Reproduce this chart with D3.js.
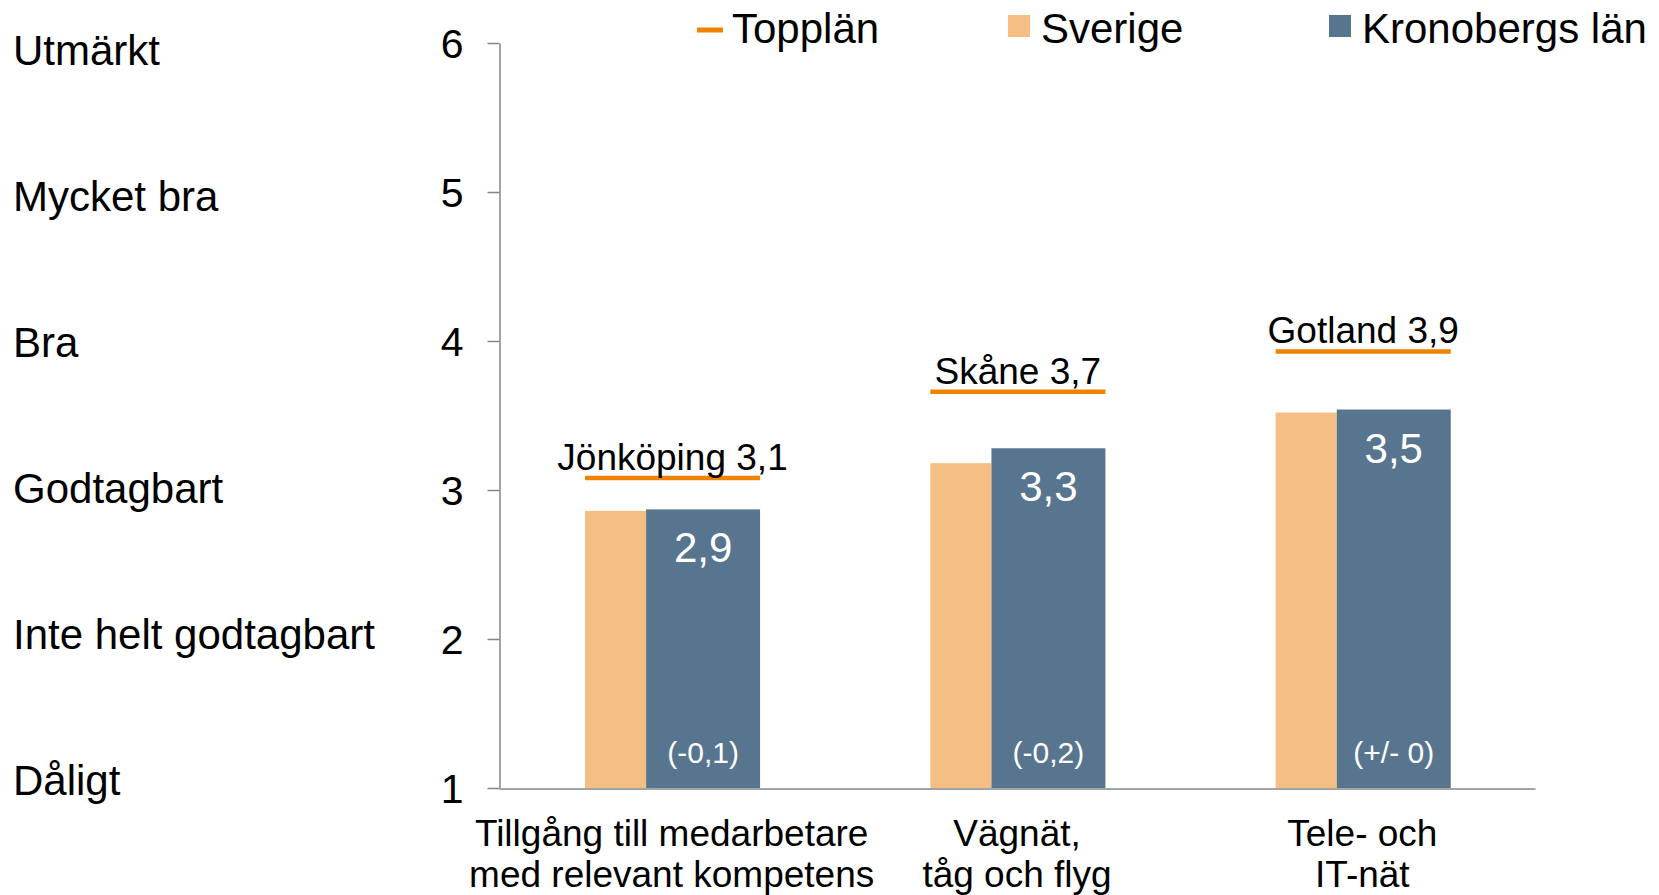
<!DOCTYPE html>
<html>
<head>
<meta charset="utf-8">
<script src="https://cdn.jsdelivr.net/npm/d3@7"></script>
<style>
  body { margin: 0; background: #fff; }
  svg { font-family: "Liberation Sans", Arial, sans-serif; }
</style>
</head>
<body>
<svg id="chart" width="1659" height="895"></svg>
<script>
// chart values
const categories = ['Tillgång till medarbetare\nmed relevant kompetens', 'Vägnät,\ntåg och flyg', 'Tele- och\nIT-nät']
const sverige = [2.86, 3.18, 3.52]
const kronoberg = [2.87, 3.28, 3.54]
const kronobergLabels = ['2,9', '3,3', '3,5']
const changeLabels = ['(-0,1)', '(-0,2)', '(+/- 0)']
const topplan = [3.08, 3.66, 3.93]
const topplanLabels = ['Jönköping 3,1', 'Skåne 3,7', 'Gotland 3,9']
const yTicks = [1, 2, 3, 4, 5, 6]
const ratingLabels = ['Dåligt', 'Inte helt godtagbart', 'Godtagbart', 'Bra', 'Mycket bra', 'Utmärkt']

const colors = {sverige: '#F5BF84', kronoberg: '#58758F', topplan: '#EF8200', axis: '#868686'}

const svg = d3.select('#chart')

const x = d3.scaleBand()
  .domain(categories)
  .range([499, 1535])
  .padding(0)

const y = d3.scaleLinear()
  .domain([1, 6])
  .range([788, 43])

// the rating words sit on a slightly tighter spacing than the ticks
const ratingY = d3.scaleLinear()
  .domain([1, 6])
  .range([780, 50])

// bar geometry as share of the band
const groupStart = 0.249
const sverigeW = 0.177
const kronW = 0.33

// y axis
const yAxis = svg.append('g')
  .attr('transform', 'translate(499.5,0)')
  .call(d3.axisLeft(y).tickValues(yTicks).tickSize(12).tickSizeOuter(0).tickPadding(24).tickFormat(d3.format('d')))
yAxis.select('.domain').attr('stroke', colors.axis).attr('stroke-width', 1.5)
yAxis.selectAll('.tick line').attr('stroke', colors.axis).attr('stroke-width', 1.5)
yAxis.selectAll('.tick text')
  .attr('fill', '#000')
  .style('font-size', '41px')
  .attr('dy', '0.36em')

// rating labels on the far left
svg.selectAll('.rating')
  .data(yTicks)
  .enter().append('text')
  .attr('class', 'rating')
  .attr('x', 13)
  .attr('y', (d) => ratingY(d))
  .attr('dy', '0.36em')
  .style('font-size', '42px')
  .text((d, i) => ratingLabels[i])

// bars
const groups = svg.selectAll('.group')
  .data(categories)
  .enter().append('g')
  .attr('class', 'group')
  .attr('transform', (d) => `translate(${x(d)},0)`)

const bw = x.bandwidth()

groups.append('rect')
  .attr('x', bw * groupStart)
  .attr('width', bw * sverigeW)
  .attr('y', (d, i) => y(sverige[i]))
  .attr('height', (d, i) => y(1) - y(sverige[i]))
  .attr('fill', colors.sverige)

groups.append('rect')
  .attr('x', bw * (groupStart + sverigeW))
  .attr('width', bw * kronW)
  .attr('y', (d, i) => y(kronoberg[i]))
  .attr('height', (d, i) => y(1) - y(kronoberg[i]))
  .attr('fill', colors.kronoberg)

const kronMid = bw * (groupStart + sverigeW + kronW / 2)

groups.append('text')
  .attr('x', kronMid)
  .attr('y', (d, i) => y(kronoberg[i]) + 53)
  .attr('text-anchor', 'middle')
  .attr('fill', '#fff')
  .style('font-size', '42px')
  .text((d, i) => kronobergLabels[i])

groups.append('text')
  .attr('x', kronMid)
  .attr('y', 763)
  .attr('text-anchor', 'middle')
  .attr('fill', '#fff')
  .style('font-size', '30px')
  .text((d, i) => changeLabels[i])

// top county lines and labels
groups.append('line')
  .attr('x1', bw * groupStart)
  .attr('x2', bw * (groupStart + sverigeW + kronW))
  .attr('y1', (d, i) => y(topplan[i]))
  .attr('y2', (d, i) => y(topplan[i]))
  .attr('stroke', colors.topplan)
  .attr('stroke-width', 4.5)

groups.append('text')
  .attr('x', bw * (groupStart + (sverigeW + kronW) / 2))
  .attr('y', (d, i) => y(topplan[i]) - 8)
  .attr('text-anchor', 'middle')
  .attr('fill', '#000')
  .style('font-size', '37px')
  .text((d, i) => topplanLabels[i])

// x axis
const xAxis = svg.append('g')
  .attr('transform', 'translate(0,788.5)')
  .call(d3.axisBottom(x).tickSize(0).tickSizeOuter(0).tickFormat(''))
xAxis.select('.domain').attr('stroke', colors.axis).attr('stroke-width', 1.5)

xAxis.selectAll('.tick')
  .append('text')
  .attr('fill', '#000')
  .attr('text-anchor', 'middle')
  .style('font-size', '37px')
  .selectAll('tspan')
  .data((d) => d.split('\n'))
  .enter().append('tspan')
  .attr('x', 0)
  .attr('y', (d, i) => 57 + i * 41)
  .text((d) => d)

// legend
const legend = svg.append('g').attr('class', 'legend')
legend.append('line')
  .attr('x1', 697).attr('x2', 723)
  .attr('y1', 30).attr('y2', 30)
  .attr('stroke', colors.topplan)
  .attr('stroke-width', 5)
legend.append('text').attr('x', 732).attr('y', 43).style('font-size', '42px').text('Topplän')
legend.append('rect').attr('x', 1008).attr('y', 15).attr('width', 22).attr('height', 22).attr('fill', colors.sverige)
legend.append('text').attr('x', 1041).attr('y', 43).style('font-size', '42px').text('Sverige')
legend.append('rect').attr('x', 1329).attr('y', 15).attr('width', 22).attr('height', 22).attr('fill', colors.kronoberg)
legend.append('text').attr('x', 1362).attr('y', 43).style('font-size', '42px').text('Kronobergs län')
</script>
</body>
</html>
